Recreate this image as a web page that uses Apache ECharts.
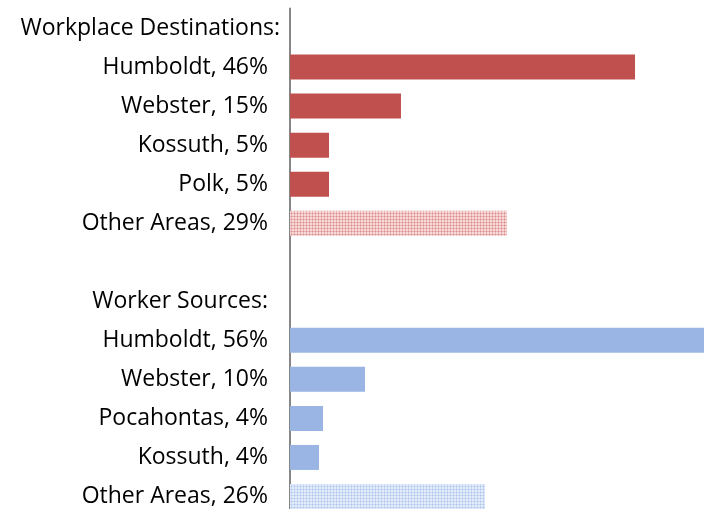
<!DOCTYPE html>
<html><head><meta charset="utf-8">
<script src="https://cdn.jsdelivr.net/npm/echarts@6/dist/echarts.min.js"></script>
<style>html,body{margin:0;padding:0;background:#fff;overflow:hidden}#c{width:704px;height:516px}</style>
</head><body><div id="c"></div>
<script>
// Data
const categories = ['Workplace Destinations:', 'Humboldt, 46%', 'Webster, 15%', 'Kossuth, 5%', 'Polk, 5%', 'Other Areas, 29%', '',
  'Worker Sources:', 'Humboldt, 56%', 'Webster, 10%', 'Pocahontas, 4%', 'Kossuth, 4%', 'Other Areas, 26%'];
const values = [null, 46.17, 14.85, 5.22, 5.22, 29.04, null, null, 55.6, 10.04, 4.42, 3.88, 26.1];
const groups = [null, 'dest', 'dest', 'dest', 'dest', 'destOther', null, null, 'src', 'src', 'src', 'src', 'srcOther'];

function pattern(base, mid, light) {
  const c = document.createElement('canvas');
  c.width = 3; c.height = 3;
  const g = c.getContext('2d');
  g.fillStyle = base; g.fillRect(0, 0, 3, 3);
  g.fillStyle = mid; g.fillRect(1, 0, 2, 1); g.fillRect(0, 1, 1, 2);
  g.fillStyle = light; g.fillRect(1, 1, 2, 2);
  return { image: c, repeat: 'repeat' };
}
const styles = {
  dest: '#C0504D',
  destOther: pattern('#DC8C8A', '#EAB2B1', '#F6DAD9'),
  src: '#9AB5E4',
  srcOther: pattern('#AFC6EE', '#C9D9F4', '#E4ECFA')
};
const data = values.map((v, i) => v == null ? null : { value: v, itemStyle: { color: styles[groups[i]] } });

const chart = echarts.init(document.getElementById('c'));
chart.setOption({
  animation: false,
  grid: { left: 290, right: 0, top: 8.5, bottom: 0, containLabel: false },
  xAxis: { type: 'value', min: 0, max: 55.4, show: false },
  yAxis: {
    type: 'category', inverse: true, data: categories,
    axisLine: { lineStyle: { color: '#868686', width: 2 } },
    axisTick: { show: false },
    axisLabel: {
      margin: 10,
      fontFamily: 'Open Sans', fontSize: 23, color: '#000',
      formatter: (v) => v === 'Workplace Destinations:' ? '{h|' + v + '}' : '{n|' + v + '}',
      rich: { h: { fontFamily: 'Open Sans', fontSize: 23, color: '#000' },
              n: { fontFamily: 'Open Sans', fontSize: 23, color: '#000', padding: [0, 12, 0, 0] } }
    }
  },
  series: [{ type: 'bar', data: data, barWidth: 25 }]
});
</script></body></html>
